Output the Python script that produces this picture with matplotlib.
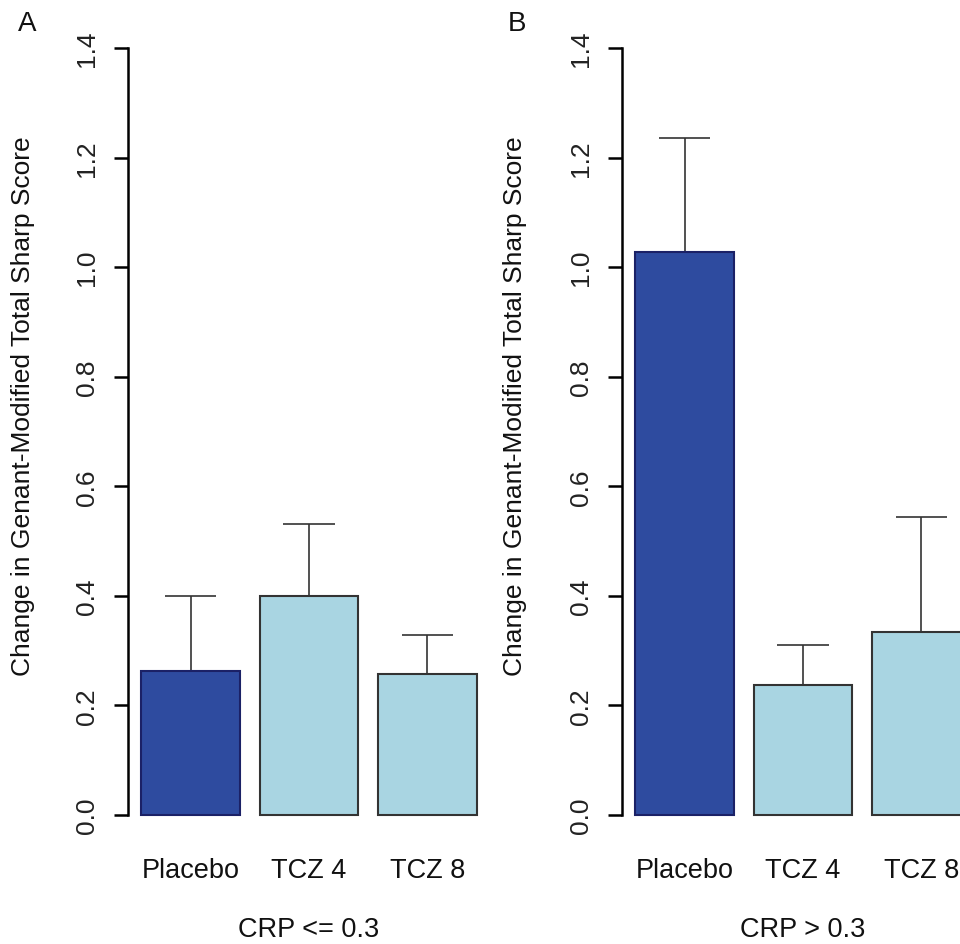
import numpy as np
import matplotlib
matplotlib.use('Agg')
import matplotlib.pyplot as plt

plt.rcParams['font.family'] = ['Liberation Sans', 'DejaVu Sans']

groups = ['Placebo', 'TCZ 4', 'TCZ 8']
# panel A: CRP <= 0.3
mean_a = [0.263, 0.400, 0.258]
upper_a = [0.400, 0.531, 0.329]
# panel B: CRP > 0.3
mean_b = [1.027, 0.237, 0.334]
upper_b = [1.236, 0.310, 0.544]
panel_letters = ['A', 'B']
panel_xlabels = ['CRP <= 0.3', 'CRP > 0.3']
yticks = [0.0, 0.2, 0.4, 0.6, 0.8, 1.0, 1.2, 1.4]
ylab = 'Change in Genant-Modified Total Sharp Score'

dark = '#2E4B9F'
light = '#A9D5E2'
W, H = 960, 945

fig = plt.figure(figsize=(9.6, 9.45), dpi=100)
fig.patch.set_facecolor('white')

centers = np.array([0.7, 1.9, 3.1])
ax_left_px = [128, 622]
ax_w_px = 362

for i, (means, ups) in enumerate([(mean_a, upper_a), (mean_b, upper_b)]):
    ax = fig.add_axes([ax_left_px[i] / W, 0.104, ax_w_px / W, 0.8766])
    colors = [dark, light, light]
    edges = ['#1B2166', '#333333', '#333333']
    ax.bar(centers, means, width=1.0, color=colors, edgecolor=edges,
           linewidth=1.5, zorder=2)
    # one-sided error bars (R arrows with angle=90)
    ax.vlines(centers, means, ups, color='#333333', linewidth=1.2, zorder=1)
    ax.hlines(ups, centers - 0.26, centers + 0.26, color='#333333',
              linewidth=1.2, zorder=1)
    ax.set_xlim(0.064, 3.736)
    ax.set_ylim(-0.056, 1.456)
    for s in ['top', 'right', 'bottom']:
        ax.spines[s].set_visible(False)
    ax.spines['left'].set_bounds(0, 1.4)
    ax.spines['left'].set_linewidth(1.8)
    ax.set_yticks(yticks)
    ax.set_yticklabels(['%.1f' % t for t in yticks], rotation=90,
                       va='center', fontsize=19, color='#222222')
    ax.tick_params(axis='y', length=10, width=1.8, pad=11)
    ax.set_xticks(centers)
    ax.set_xticklabels(groups, fontsize=19.5, color='#111111')
    ax.tick_params(axis='x', length=0, pad=8)
    ax.set_facecolor('none')

    xc = (ax_left_px[i] + ax_w_px / 2) / W
    fig.text(xc, 1 - 930 / H, panel_xlabels[i], ha='center', va='center',
             fontsize=19.5, color='#111111')
    ylx = [23, 515][i] / W
    fig.text(ylx, 1 - 406 / H, ylab, rotation=90, ha='center', va='center',
             fontsize=19, color='#111111')
    fig.text([27, 517][i] / W, 1 - 24 / H, panel_letters[i], ha='center',
             va='center', fontsize=20, color='#111111')

fig.savefig('out.png', dpi=100, facecolor='white')
